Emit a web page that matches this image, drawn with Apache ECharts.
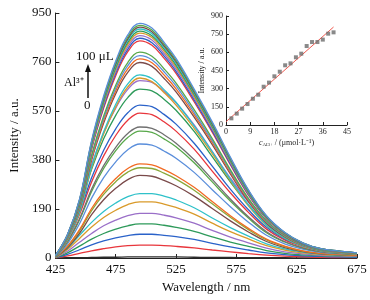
<!DOCTYPE html>
<html>
<head>
<meta charset="utf-8">
<script src="https://cdn.jsdelivr.net/npm/echarts@6/dist/echarts.min.js"></script>
<style>
  html, body { margin: 0; padding: 0; background: #fff; }
  #chart { width: 370px; height: 300px; }
</style>
</head>
<body>
<div id="chart"></div>
<script>
// emission spectra, sampled wavelengths (nm)
const wavelengths = [425, 435, 445, 455, 465, 475, 485, 495, 505, 515, 525, 540, 555, 570, 585, 600, 615, 630, 645, 660, 675]

// one row per Al3+ addition, from 0 to 100 uL
const spectra = [
  [0, 1, 1, 2, 3, 3, 4, 4, 4, 4, 4, 3, 2, 2, 1, 1, 1, 0, 0, 0, 0],
  [1, 8, 18, 28, 36, 43, 48, 50, 50, 48, 45, 39, 31, 24, 17, 11, 7, 5, 3, 2, 2],
  [1, 14, 32, 51, 66, 78, 87, 92, 92, 88, 83, 72, 57, 43, 31, 20, 13, 8, 6, 4, 3],
  [1, 20, 46, 73, 95, 112, 125, 132, 132, 127, 119, 103, 82, 62, 45, 29, 18, 12, 8, 6, 5],
  [2, 26, 61, 95, 125, 147, 164, 173, 173, 166, 156, 135, 107, 81, 59, 38, 24, 16, 10, 8, 6],
  [2, 33, 76, 120, 157, 185, 207, 218, 218, 209, 196, 170, 135, 102, 74, 48, 31, 20, 13, 10, 8],
  [3, 38, 88, 138, 180, 213, 238, 250, 250, 240, 225, 195, 155, 118, 85, 55, 35, 23, 15, 11, 9],
  [3, 40, 96, 168, 226, 270, 304, 320, 317, 301, 280, 240, 192, 144, 101, 64, 40, 25, 16, 12, 9],
  [4, 44, 105, 184, 247, 296, 333, 350, 347, 329, 306, 263, 210, 158, 110, 70, 44, 27, 18, 13, 10],
  [4, 46, 110, 192, 257, 308, 347, 365, 361, 343, 319, 274, 219, 164, 115, 73, 46, 28, 18, 14, 10],
  [4, 55, 133, 232, 312, 373, 420, 442, 438, 415, 387, 332, 265, 199, 139, 88, 55, 34, 22, 17, 13],
  [5, 62, 148, 258, 347, 416, 467, 492, 487, 462, 431, 369, 295, 221, 155, 98, 62, 38, 25, 18, 14],
  [5, 64, 152, 267, 358, 429, 483, 508, 503, 478, 445, 381, 305, 229, 160, 102, 64, 39, 25, 19, 14],
  [6, 70, 169, 295, 396, 475, 534, 562, 556, 528, 492, 422, 337, 253, 177, 112, 70, 44, 28, 21, 16],
  [6, 74, 178, 311, 418, 501, 563, 593, 587, 557, 519, 445, 356, 267, 187, 119, 74, 46, 30, 22, 17],
  [7, 82, 197, 344, 462, 553, 622, 655, 648, 616, 573, 491, 393, 295, 206, 131, 82, 51, 33, 25, 19],
  [7, 86, 206, 361, 485, 581, 654, 688, 681, 647, 602, 516, 413, 310, 217, 138, 86, 53, 34, 26, 20],
  [7, 70, 175, 349, 482, 586, 663, 698, 684, 642, 593, 503, 405, 300, 202, 126, 77, 45, 28, 21, 15],
  [7, 71, 178, 355, 490, 596, 675, 710, 696, 653, 604, 511, 412, 305, 206, 128, 78, 46, 28, 21, 16],
  [8, 76, 190, 379, 523, 637, 720, 758, 743, 697, 644, 546, 440, 326, 220, 136, 83, 49, 30, 23, 17],
  [8, 77, 193, 386, 533, 648, 733, 772, 757, 710, 656, 556, 448, 332, 224, 139, 85, 50, 31, 23, 17],
  [8, 79, 196, 393, 542, 659, 746, 785, 769, 722, 667, 565, 455, 338, 228, 141, 86, 51, 31, 24, 17],
  [8, 80, 200, 399, 551, 670, 758, 798, 782, 734, 678, 575, 463, 343, 231, 144, 88, 52, 32, 24, 18],
  [8, 84, 211, 421, 581, 707, 800, 842, 825, 775, 716, 606, 488, 362, 244, 152, 93, 55, 34, 25, 19],
  [9, 85, 213, 426, 588, 716, 809, 852, 835, 784, 724, 613, 494, 366, 247, 153, 94, 55, 34, 26, 19],
  [9, 86, 216, 431, 595, 724, 819, 862, 845, 793, 733, 621, 500, 371, 250, 155, 95, 56, 34, 26, 19],
  [9, 87, 218, 436, 602, 732, 828, 872, 855, 802, 741, 628, 506, 375, 253, 157, 96, 57, 35, 26, 19],
  [9, 88, 220, 440, 607, 739, 836, 880, 862, 810, 748, 634, 510, 378, 255, 158, 97, 57, 35, 26, 19],
  [9, 89, 222, 444, 613, 746, 844, 888, 870, 817, 755, 639, 515, 382, 258, 160, 98, 58, 36, 27, 20],
  [9, 90, 224, 448, 618, 752, 850, 895, 877, 823, 761, 644, 519, 385, 260, 161, 98, 58, 36, 27, 20],
  [9, 90, 226, 451, 622, 758, 857, 902, 884, 830, 767, 649, 523, 388, 262, 162, 99, 59, 36, 27, 20],
  [9, 91, 228, 455, 628, 764, 865, 910, 892, 837, 774, 655, 528, 391, 264, 164, 100, 59, 36, 27, 20]
]

const lineColors = ['#2b2b2b', '#e8363c', '#2a62c9', '#2e9a5a', '#9a6fc8', '#d99a2a', '#2fc1c9', '#7a4a4a',
  '#8aa83a', '#f26a22', '#5a8edb', '#58a84a', '#707070', '#e8363c', '#2a62c9', '#2e9a5a', '#9a6fc8',
  '#d99a2a', '#2fc1c9', '#7a4a4a', '#f26a22', '#5a8edb', '#58a84a', '#e8363c', '#2a62c9', '#9a6fc8',
  '#d99a2a', '#2e9a5a', '#2fc1c9', '#7a4a4a', '#58a84a', '#5a8edb']

const xTicks = [425, 475, 525, 575, 625, 675]

// inset: intensity vs Al3+ concentration
const conc = [2, 4, 6, 8, 10, 12, 14, 16, 18, 20, 22, 24, 26, 28, 30, 32, 34, 36, 38, 40]
const intensity = [55, 94, 135, 173, 217, 250, 316, 350, 402, 440, 493, 509, 559, 589, 652, 685, 685, 705, 754, 765]
const fitX = [0, 40]
const fitY = [27, 809]

const serif = 'Liberation Serif'

const chart = echarts.init(document.getElementById('chart'))

const spectraSeries = spectra.map((row, i) => ({
  type: 'line',
  xAxisIndex: 0,
  yAxisIndex: 0,
  smooth: 0.4,
  showSymbol: false,
  lineStyle: { width: 1.3, color: lineColors[i % lineColors.length] },
  data: row.map((v, j) => [wavelengths[j], v]),
  z: 2
}))

const option = {
  animation: false,
  backgroundColor: '#fff',
  grid: [
    { left: 53, right: 13, top: 13, bottom: 42 },
    { left: 226, right: 23, top: 16, bottom: 175 }
  ],
  xAxis: [
    {
      gridIndex: 0,
      type: 'value',
      min: 425,
      max: 675,
      name: 'Wavelength / nm',
      nameLocation: 'middle',
      nameGap: 22,
      nameTextStyle: { fontFamily: serif, fontSize: 13, color: '#111' },
      axisLine: { lineStyle: { color: '#222', width: 1 } },
      axisTick: { inside: true, length: 4, customValues: xTicks, lineStyle: { color: '#222' } },
      axisLabel: { customValues: xTicks, fontFamily: serif, fontSize: 13, color: '#111', margin: 5 },
      splitLine: { show: false }
    },
    {
      gridIndex: 1,
      type: 'value',
      min: 0,
      max: 45,
      interval: 9,
      name: '{i|c}{s|Al3+} / (μmol·L⁻¹)',
      nameLocation: 'middle',
      nameGap: 13,
      nameTextStyle: {
        fontFamily: serif, fontSize: 8, color: '#222',
        rich: {
          i: { fontFamily: serif, fontSize: 8, fontStyle: 'italic', color: '#222' },
          s: { fontFamily: serif, fontSize: 5, verticalAlign: 'bottom', padding: [4, 0, 0, 0], color: '#222' }
        }
      },
      axisLine: { lineStyle: { color: '#222', width: 1 } },
      axisTick: { inside: true, length: 3, lineStyle: { color: '#222' } },
      axisLabel: { fontFamily: serif, fontSize: 8, color: '#222', margin: 3 },
      splitLine: { show: false }
    }
  ],
  yAxis: [
    {
      gridIndex: 0,
      type: 'value',
      min: 0,
      max: 950,
      interval: 190,
      name: 'Intensity / a.u.',
      nameLocation: 'middle',
      nameGap: 31,
      nameTextStyle: { fontFamily: serif, fontSize: 13, color: '#111' },
      axisLine: { show: true, lineStyle: { color: '#222', width: 1 } },
      axisTick: { show: true, inside: true, length: 4, lineStyle: { color: '#222' } },
      axisLabel: { fontFamily: serif, fontSize: 13, color: '#111', margin: 4 },
      splitLine: { show: false }
    },
    {
      gridIndex: 1,
      type: 'value',
      min: 0,
      max: 900,
      interval: 150,
      name: 'Intensity / a.u.',
      nameLocation: 'middle',
      nameGap: 20,
      nameTextStyle: { fontFamily: serif, fontSize: 8, color: '#222' },
      axisLine: { show: true, lineStyle: { color: '#222', width: 1 } },
      axisTick: { show: true, inside: true, length: 3, lineStyle: { color: '#222' } },
      axisLabel: { fontFamily: serif, fontSize: 8, color: '#222', margin: 3 },
      splitLine: { show: false }
    }
  ],
  series: [
    ...spectraSeries,
    {
      type: 'line',
      xAxisIndex: 1,
      yAxisIndex: 1,
      showSymbol: false,
      lineStyle: { width: 1, color: '#ef5a50' },
      data: fitX.map((x, i) => [x, fitY[i]]),
      z: 5
    },
    {
      type: 'scatter',
      xAxisIndex: 1,
      yAxisIndex: 1,
      symbol: 'rect',
      symbolSize: 4,
      itemStyle: { color: '#6b6b6b' },
      data: conc.map((x, i) => [x, intensity[i]]),
      z: 6
    }
  ],
  graphic: [
    {
      type: 'text', left: 76, top: 50,
      style: { text: '100 μL', font: '13px "Liberation Serif"', fill: '#111' }, z: 10
    },
    {
      type: 'text', left: 64, top: 77,
      style: { text: 'Al³⁺', font: '12px "Liberation Serif"', fill: '#111' }, z: 10
    },
    {
      type: 'text', left: 84, top: 99,
      style: { text: '0', font: '13px "Liberation Serif"', fill: '#111' }, z: 10
    },
    {
      type: 'line', shape: { x1: 88, y1: 70, x2: 88, y2: 98 },
      style: { stroke: '#111', lineWidth: 1.5 }, z: 10
    },
    {
      type: 'polygon', shape: { points: [[88, 64], [85, 72], [91, 72]] },
      style: { fill: '#111' }, z: 10
    }
  ]
}

chart.setOption(option)
</script>
</body>
</html>
